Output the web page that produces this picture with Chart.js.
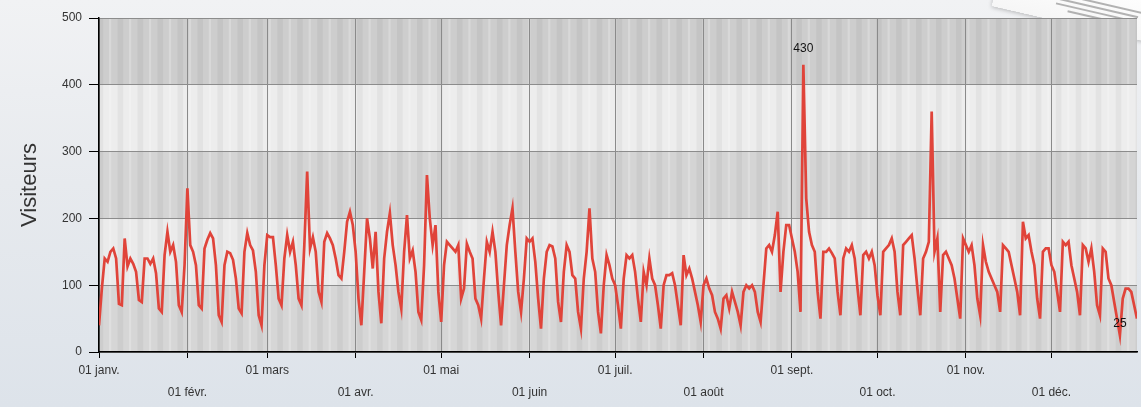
<!DOCTYPE html>
<html>
<head>
<meta charset="utf-8">
<script src="https://cdn.jsdelivr.net/npm/chart.js@4/dist/chart.umd.min.js"></script>
<style>
  html,body{margin:0;padding:0;}
  body{width:1141px;height:407px;overflow:hidden;position:relative;
       background:linear-gradient(180deg,#f1f2f4 0%,#e7eaee 45%,#dde3ea 100%);
       font-family:"Liberation Sans",Arial,sans-serif;}
  #wrap{position:absolute;left:0;top:0;width:1141px;height:407px;}
  #paper{position:absolute;left:995px;top:-22px;width:190px;height:50px;
         background:linear-gradient(180deg,#ffffff 0%,#f6f6f6 100%);
         transform:rotate(13deg);box-shadow:0 1px 4px rgba(0,0,0,0.25);}
  #paper i{position:absolute;left:40px;height:2px;background:#9a9a9a;opacity:.75;}
</style>
</head>
<body>
<div id="paper"><i style="top:22px;width:115px"></i><i style="top:27px;width:95px;left:50px"></i><i style="top:32px;width:80px;left:62px"></i><i style="top:37px;width:55px;left:75px"></i></div>
<div id="wrap"><canvas id="c" width="1141" height="407"></canvas></div>
<script>
// Daily visitors, 01 janv. .. 31 déc. (365 days)
const visitors = [
  40, 95,
  140,135,150,155,140,72,70,
  170,128,140,132,120,78,75,
  140,140,132,140,118,65,60,
  145,180,150,160,135,70,60,
  130,245,160,150,130,70,65,
  155,168,178,170,130,55,45,
  130,150,148,138,110,65,58,
  150,178,160,152,120,55,40,
  130,175,172,172,130,80,70,
  140,175,150,165,130,80,70,
  160,270,155,172,150,90,75,
  165,178,170,160,140,115,110,
  150,195,210,190,150,80,40,
  120,200,170,125,180,90,43,
  140,180,208,160,130,90,65,
  150,205,140,152,120,60,48,
  130,265,200,160,190,90,45,
  130,165,160,155,150,160,80,
  95,162,150,140,80,70,50,
  110,165,150,180,150,90,40,
  100,160,190,215,150,90,60,
  110,170,165,170,135,80,35,
  110,150,160,158,140,75,45,
  120,160,150,115,110,60,35,
  110,150,215,140,120,60,28,
  100,145,130,110,100,70,35,
  110,145,140,145,120,80,45,
  120,100,140,110,100,70,35,
  100,115,115,118,100,70,40,
  145,115,125,110,90,70,45,
  100,110,95,85,60,50,35,
  80,85,65,90,75,60,40,
  90,100,95,100,90,60,45,
  100,155,160,150,175,210,90,
  150,190,190,170,150,120,60,
  430,230,180,160,150,90,50,
  150,150,155,148,140,90,55,
  140,155,150,160,140,95,55,
  145,150,140,150,130,85,55,
  150,155,160,170,150,90,55,
  160,165,170,175,140,95,55,
  140,150,165,360,150,170,60,
  145,150,140,130,110,80,50,
  170,160,150,160,130,80,55,
  160,135,120,110,100,90,60,
  160,155,150,130,110,90,55,
  195,170,175,150,130,80,50,
  150,155,155,130,120,90,60,
  165,160,165,130,110,90,55,
  160,155,135,155,120,70,55,
  155,150,110,100,75,50,25,
  80,95,95,90,70,50
];
const monthStarts = [0,31,59,90,120,151,181,212,243,273,304,334];
const monthLabels = ['01 janv.','01 févr.','01 mars','01 avr.','01 mai','01 juin','01 juil.','01 août','01 sept.','01 oct.','01 nov.','01 déc.'];
const yTicks = [0,100,200,300,400,500];
const bandColors = ['#d6d6d6','#ebebeb','#d4d4d4','#ededed','#cdcdcd'];

const points = visitors.map((v,i)=>({x:i,y:v}));

const bgPlugin = {
  id:'bg',
  beforeDraw(chart){
    const {ctx, chartArea:a, scales:{x,y}} = chart;
    ctx.save();
    for(let i=0;i<yTicks.length-1;i++){
      const y0=y.getPixelForValue(yTicks[i]), y1=y.getPixelForValue(yTicks[i+1]);
      ctx.fillStyle=bandColors[i];
      ctx.fillRect(a.left,y1,a.right-a.left,y0-y1);
    }
    // weekly stripes
    for(let d=0; d<visitors.length; d+=7){
      const x0=Math.max(a.left,x.getPixelForValue(d-0.5)), x1=Math.min(a.right,x.getPixelForValue(d+1.5));
      ctx.fillStyle='rgba(0,0,0,0.04)';
      ctx.fillRect(x0,a.top,x1-x0,a.bottom-a.top);
      const x2=x.getPixelForValue(d+3.5), x3=Math.min(a.right,x.getPixelForValue(d+4.3));
      if(x3>x2){ ctx.fillStyle='rgba(255,255,255,0.22)'; ctx.fillRect(x2,a.top,x3-x2,a.bottom-a.top); }
    }
    ctx.restore();
  },
  afterDatasetsDraw(chart){
    const {ctx, scales:{x,y}} = chart;
    let mx=0, mn=0;
    visitors.forEach((v,i)=>{ if(v>visitors[mx]) mx=i; if(v<visitors[mn]) mn=i; });
    ctx.save();
    ctx.font='12px "Liberation Sans", Arial, sans-serif';
    ctx.fillStyle='#111';
    ctx.textAlign='center';
    ctx.textBaseline='bottom';
    ctx.fillText(String(visitors[mx]), x.getPixelForValue(mx), y.getPixelForValue(visitors[mx])-10);
    ctx.fillText(String(visitors[mn]), x.getPixelForValue(mn), y.getPixelForValue(visitors[mn])-6);
    ctx.restore();
  }
};

new Chart(document.getElementById('c'), {
  type:'line',
  data:{datasets:[{data:points, borderColor:'#e0443a', borderWidth:2.7, pointRadius:0, tension:0, fill:false}]},
  options:{
    responsive:false, animation:false,
    layout:{padding:{top:18,right:4,left:0,bottom:0}},
    plugins:{legend:{display:false}, tooltip:{enabled:false}},
    scales:{
      x:{
        type:'linear', min:0, max:visitors.length-1,
        afterBuildTicks(s){ s.ticks = monthStarts.map(v=>({value:v})); },
        afterFit(s){ s.height = 55; },
        ticks:{
          autoSkip:false, maxRotation:0, padding:2,
          color:'#333',
          font:{size:12, family:'"Liberation Sans", Arial, sans-serif', lineHeight:1.8},
          callback(v){ const i=monthStarts.indexOf(v); if(i<0) return ''; return i%2===0 ? [monthLabels[i],''] : ['',monthLabels[i]]; }
        },
        grid:{color:'#8a8a8a', lineWidth:1, tickColor:'#000', tickLength:6, drawTicks:true},
        border:{color:'#000', width:1.5}
      },
      y:{
        min:0, max:500,
        afterBuildTicks(s){ s.ticks = yTicks.map(v=>({value:v})); },
        afterFit(s){ s.width = 99; },
        title:{display:true, text:'Visiteurs', color:'#333', font:{size:22, family:'"Liberation Sans", Arial, sans-serif'}, padding:{top:17,bottom:0}},
        ticks:{color:'#333', padding:7, font:{size:12, family:'"Liberation Sans", Arial, sans-serif'}},
        grid:{color:'#8c8c8c', lineWidth:1, tickColor:'#000', tickLength:10},
        border:{color:'#000', width:1.5}
      }
    }
  },
  plugins:[bgPlugin]
});
</script>
</body>
</html>
